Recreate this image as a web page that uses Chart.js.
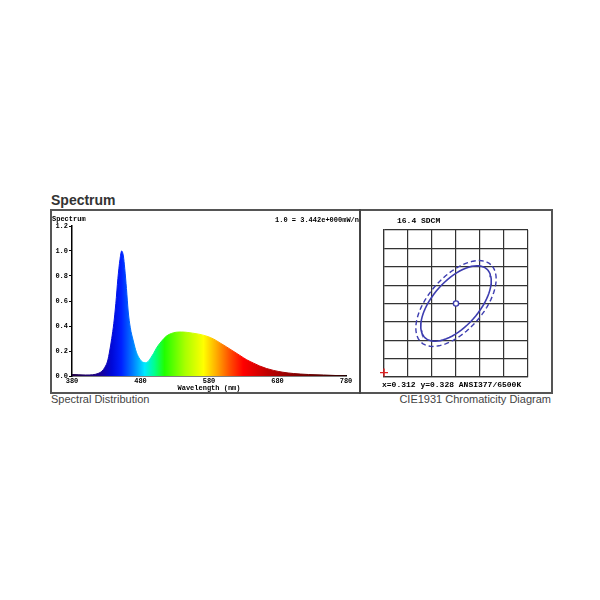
<!DOCTYPE html>
<html lang="en">
<head>
  <meta charset="UTF-8" />
  <title>Spectrum</title>
  <script src="https://cdn.jsdelivr.net/npm/chart.js@4.4.1/dist/chart.umd.min.js"></script>
  <style>
    body { margin: 0; background: #fff; font-family: "Liberation Sans", Arial, sans-serif; }
    #page { position: relative; width: 600px; height: 600px; }
    .title { position: absolute; left: 51px; top: 192px; font-size: 14px; line-height: 16px; font-weight: bold; color: #333; }
    .box { position: absolute; left: 50px; top: 209px; width: 499px; height: 181px; border: 2px solid #555; }
    .divider { position: absolute; left: 359px; top: 209px; width: 2px; height: 185px; background: #444; }
    .caption { position: absolute; top: 393px; font-size: 11px; line-height: 13px; color: #444; }
    #specWrap { position: absolute; left: 52px; top: 211px; width: 307px; height: 181px; }
    #cieWrap { position: absolute; left: 361px; top: 211px; width: 190px; height: 181px; }
  </style>
</head>
<body>
<div id="page">
  <div class="title">Spectrum</div>
  <div class="box"></div>
  <div class="divider"></div>
  <div id="specWrap"><canvas id="specChart" width="307" height="181"></canvas></div>
  <div id="cieWrap"><canvas id="cieChart" width="190" height="181"></canvas></div>
  <div class="caption" style="left:51px;">Spectral Distribution</div>
  <div class="caption" style="right:49px;">CIE1931 Chromaticity Diagram</div>
</div>

<script>
  // spectrum (relative power, 1.0 = peak)
  const wavelengths = [380, 390, 400, 410, 418, 424, 428, 432, 435, 438, 441, 444, 447, 450, 452.5, 455, 457, 459.5, 462, 465,
    469.5, 474, 479, 483, 487, 491, 495, 499, 504, 511, 518, 525, 532, 540, 548, 556, 565, 577, 587, 596,
    605, 615, 625, 635, 645, 654, 664, 674, 688, 703, 725, 747, 765, 780];
  const relPower = [0.012, 0.01, 0.008, 0.01, 0.02, 0.04, 0.07, 0.12, 0.2, 0.3, 0.42, 0.58, 0.78, 0.93, 1.0, 0.96, 0.86, 0.7, 0.52, 0.39,
    0.28, 0.19, 0.135, 0.112, 0.106, 0.115, 0.145, 0.18, 0.23, 0.28, 0.32, 0.34, 0.35, 0.352, 0.349, 0.343, 0.335, 0.318, 0.295, 0.265,
    0.235, 0.2, 0.165, 0.13, 0.103, 0.08, 0.06, 0.045, 0.03, 0.02, 0.012, 0.008, 0.004, 0.002];
  const wlTicks = [380, 480, 580, 680, 780];
  const powerTicks = [0, 0.2, 0.4, 0.6, 0.8, 1.0, 1.2];

  // chromaticity panel
  const cieXTicks = [0.297, 0.302, 0.307, 0.312, 0.317, 0.322, 0.327];
  const cieYTicks = [0.308, 0.313, 0.318, 0.323, 0.328, 0.333, 0.338, 0.343, 0.348];
  const chromaPoint = [0.312, 0.328];
  const refMark = [0.297, 0.3092];
  // ellipses as centre + two conjugate half axes (x, y)
  const innerAxisU = [0.00642, 0.00937];
  const innerAxisV = [-0.00356, 0.00422];
  const outerAxisU = [0.00725, 0.01058];
  const outerAxisV = [-0.00418, 0.00496];

  const spectrumStops = [
    [380, '#200040'], [420, '#1a0090'], [438, '#0008d8'], [452, '#0020ff'], [468, '#0078ff'],
    [486, '#00e8ff'], [500, '#00ff90'], [515, '#20ff00'], [545, '#a8ff00'], [572, '#ffff00'],
    [590, '#ffb000'], [610, '#ff5000'], [630, '#ff0000'], [665, '#c00000'], [710, '#800000'], [780, '#300000']
  ];

  const monoFont = { family: '"Liberation Mono", "DejaVu Sans Mono", monospace', weight: 'bold', size: 7 };

  function spectrumFill(context) {
    const chart = context.chart;
    const area = chart.chartArea;
    if (!area) return '#0000ff';
    const x = chart.scales.x;
    const g = chart.ctx.createLinearGradient(area.left, 0, area.right, 0);
    spectrumStops.forEach(([nm, col]) => {
      const off = (x.getPixelForValue(nm) - area.left) / (area.right - area.left);
      g.addColorStop(Math.min(1, Math.max(0, off)), col);
    });
    return g;
  }

  const specText = {
    id: 'specText',
    afterDraw(chart) {
      const ctx = chart.ctx;
      ctx.save();
      ctx.fillStyle = '#000';
      ctx.font = 'bold 7px "Liberation Mono", monospace';
      ctx.textBaseline = 'middle';
      ctx.textAlign = 'left';
      ctx.fillText('Spectrum', 0, 8);
      ctx.fillText('1.0 = 3.442e+000mW/nm', 223, 9);
      ctx.restore();
    }
  };

  new Chart(document.getElementById('specChart'), {
    type: 'line',
    data: {
      datasets: [{
        data: wavelengths.map((w, i) => ({ x: w, y: relPower[i] })),
        backgroundColor: spectrumFill,
        borderColor: spectrumFill,
        borderWidth: 1,
        pointRadius: 0,
        fill: 'origin',
        cubicInterpolationMode: 'monotone'
      }]
    },
    options: {
      responsive: false,
      animation: false,
      devicePixelRatio: 1,
      layout: { padding: { top: 15, right: 13, left: 0, bottom: 0 } },
      plugins: { legend: { display: false }, tooltip: { enabled: false } },
      scales: {
        x: {
          type: 'linear', min: 380, max: 780,
          afterBuildTicks: s => { s.ticks = wlTicks.map(v => ({ value: v })); },
          afterFit: s => { s.height = 16; },
          grid: { display: false, drawTicks: false },
          border: { display: true, color: '#000', width: 1.5 },
          ticks: { color: '#000', font: monoFont, padding: 1, maxRotation: 0, autoSkip: false },
          title: { display: true, text: 'Wavelength (nm)', color: '#000', font: monoFont, padding: 0 }
        },
        y: {
          min: 0, max: 1.2,
          afterBuildTicks: s => { s.ticks = powerTicks.map(v => ({ value: v })); },
          afterFit: s => { s.width = 20; },
          grid: { display: true, drawOnChartArea: false, drawTicks: true, tickLength: 3, color: '#000' },
          border: { display: true, color: '#000', width: 1.5 },
          ticks: { color: '#000', font: monoFont, padding: 1, callback: v => v.toFixed(1) }
        }
      }
    },
    plugins: [specText]
  });

  function ellipse(c, u, v) {
    const pts = [];
    for (let deg = 0; deg <= 360; deg += 5) {
      const t = deg * Math.PI / 180;
      pts.push({ x: c[0] + u[0] * Math.cos(t) + v[0] * Math.sin(t), y: c[1] + u[1] * Math.cos(t) + v[1] * Math.sin(t) });
    }
    return pts;
  }

  const cieText = {
    id: 'cieText',
    afterDraw(chart) {
      const ctx = chart.ctx;
      ctx.save();
      ctx.fillStyle = '#000';
      ctx.font = 'bold 8px "Liberation Mono", monospace';
      ctx.textBaseline = 'middle';
      ctx.fillText('16.4 SDCM', 36, 10);
      ctx.fillText('x=0.312 y=0.328 ANSI377/6500K', 21, 174);
      ctx.restore();
    }
  };

  const ellColor = '#3d3db0';
  new Chart(document.getElementById('cieChart'), {
    type: 'scatter',
    data: {
      datasets: [
        { data: ellipse(chromaPoint, outerAxisU, outerAxisV), showLine: true, borderColor: ellColor, borderWidth: 1.4, borderDash: [5, 3], pointRadius: 0 },
        { data: ellipse(chromaPoint, innerAxisU, innerAxisV), showLine: true, borderColor: ellColor, borderWidth: 1.6, pointRadius: 0 },
        { data: [{ x: chromaPoint[0], y: chromaPoint[1] }], pointRadius: 2.6, pointBackgroundColor: '#fff', pointBorderColor: ellColor, pointBorderWidth: 1.4 },
        { data: [{ x: refMark[0], y: refMark[1] }], pointStyle: 'cross', pointRadius: 4, pointBorderColor: '#e02020', pointBorderWidth: 1.4, clip: false }
      ]
    },
    options: {
      responsive: false,
      animation: false,
      devicePixelRatio: 1,
      layout: { padding: { left: 23, right: 23, top: 19, bottom: 15 } },
      plugins: { legend: { display: false }, tooltip: { enabled: false } },
      scales: {
        x: {
          type: 'linear', min: cieXTicks[0], max: cieXTicks[cieXTicks.length - 1],
          afterBuildTicks: s => { s.ticks = cieXTicks.map(v => ({ value: v })); },
          afterFit: s => { s.height = 0; },
          grid: { color: '#333', lineWidth: 1.2, drawTicks: false },
          border: { display: true, color: '#333', width: 1.2 },
          ticks: { display: false }
        },
        y: {
          min: cieYTicks[0], max: cieYTicks[cieYTicks.length - 1],
          afterBuildTicks: s => { s.ticks = cieYTicks.map(v => ({ value: v })); },
          afterFit: s => { s.width = 0; },
          grid: { color: '#333', lineWidth: 1.2, drawTicks: false },
          border: { display: true, color: '#333', width: 1.2 },
          ticks: { display: false }
        }
      }
    },
    plugins: [cieText]
  });
</script>
</body>
</html>
